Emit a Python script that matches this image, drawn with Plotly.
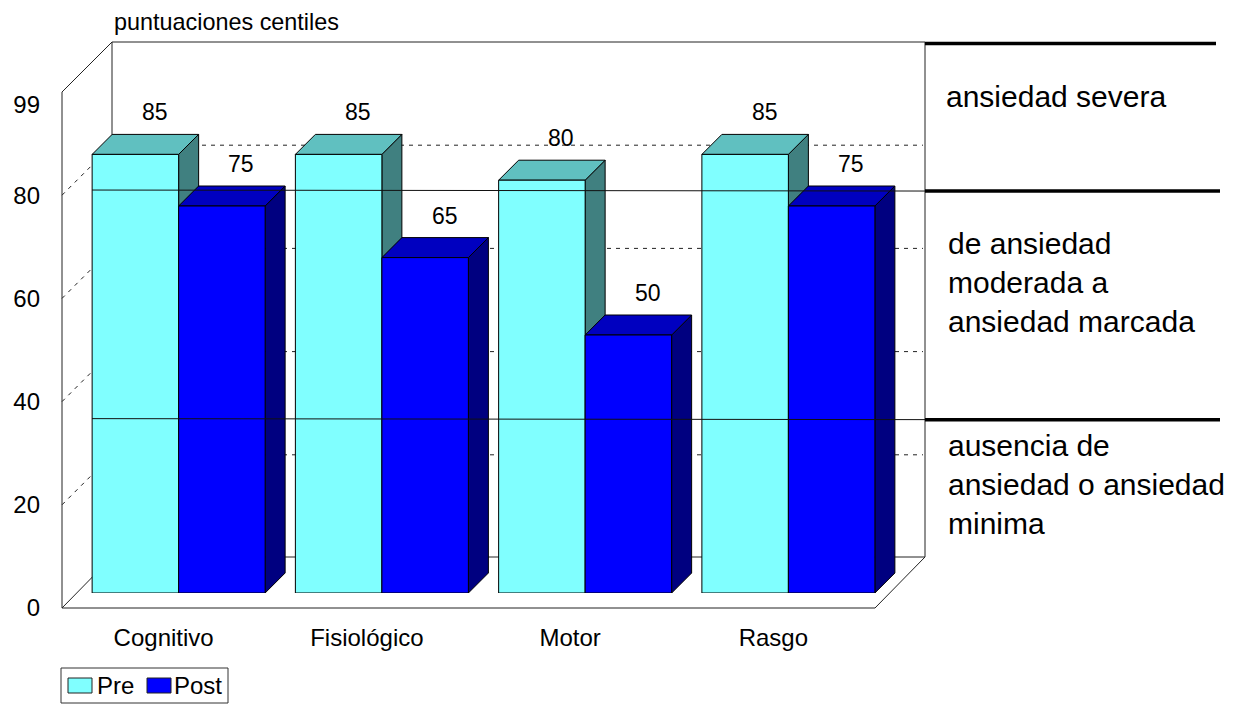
import plotly.graph_objects as go

categories = ["Cognitivo", "Fisiológico", "Motor", "Rasgo"]
pre_values = [85, 85, 80, 85]
post_values = [75, 65, 50, 75]
y_tick_values = [0, 20, 40, 60, 80, 97.5]
y_tick_labels = ["0", "20", "40", "60", "80", "99"]
grid_values = [20, 40, 60, 80]
level_values = [81.0, 36.7]
y_axis_title = "puntuaciones centiles"
series_names = ["Pre", "Post"]
front_colors = ["#80FFFF", "#0000FF"]
zone_lines = [
    ("ansiedad severa", 944, 96),
    ("de ansiedad", 946, 243),
    ("moderada a", 946, 282),
    ("ansiedad marcada", 946, 321),
    ("ausencia de", 946, 445),
    ("ansiedad o ansiedad", 946, 484),
    ("minima", 946, 523),
]

W, H = 1242, 704
FONT = "Liberation Sans"
L, R, T, B = 62, 875, 92, 608     # front plane of the chart frame, px
WALL = 50                         # depth of the frame, px
BAR_SHIFT = 15                    # bar front plane shift, px
BAR_DEPTH = 20                    # bar depth, px
PX_X = (R - L) / 4
PX_Y = (B - T) / 100
BAR_W = 86.5
EXTRA = 60                        # extra primary-axis room so the 3-D faces are not cut

def px(x):
    return x / W

def py(y):
    return 1 - y / H

def vy(v):
    return B - v * PX_Y

LINE = "#222222"
shapes = []

def seg(x0, y0, x1, y1, color=LINE, width=1, dash="solid", layer="below"):
    shapes.append(dict(type="line", xref="paper", yref="paper", x0=px(x0), y0=py(y0),
                       x1=px(x1), y1=py(y1), layer=layer,
                       line=dict(color=color, width=width, dash=dash)))

# frame
seg(L, T, L, B)
seg(L, B, R, B)
seg(L, T, L + WALL, T - WALL)
seg(L, B, L + WALL, B - WALL - 1)
seg(R, B, R + WALL, B - WALL - 1)
seg(L + WALL, T - WALL, L + WALL, B - WALL - 1)
seg(L + WALL, T - WALL, R + WALL, T - WALL)
seg(L + WALL, B - WALL - 1, R + WALL, B - WALL - 1)
seg(R + WALL, T - WALL, R + WALL, B - WALL - 1)
# grid
for g in grid_values:
    seg(L, vy(g), L + WALL, vy(g) - WALL, dash="4px,5px")
    seg(L + WALL, vy(g) - WALL, R + WALL - 2, vy(g) - WALL, dash="4px,5px")
# level lines
for v in level_values:
    seg(L + 30, vy(v), R + WALL, vy(v) + 1, color="#111111", layer="above")
    seg(R + WALL, vy(v) + 1, 1220, vy(v) + 1, color="#000000", width=3.5, layer="above")
seg(R + WALL, T - WALL + 1.5, 1216, T - WALL + 1.5, color="#000000", width=3.5, layer="above")

# legend box and swatches
LEG_T, LEG_B = 668, 703
shapes.append(dict(type="rect", xref="paper", yref="paper", x0=px(61), x1=px(228),
                   y0=py(LEG_B), y1=py(LEG_T), layer="below",
                   line=dict(color="#333333", width=1), fillcolor="#FFFFFF"))
for sx, col in zip((68, 147), front_colors):
    shapes.append(dict(type="rect", xref="paper", yref="paper", x0=px(sx), x1=px(sx + 24),
                       y0=py(693), y1=py(678), layer="below",
                       line=dict(color="#222222", width=1), fillcolor=col))

# helpers in data units of the primary axes
SX = BAR_SHIFT / PX_X
SY = BAR_SHIFT / PX_Y
DX = BAR_DEPTH / PX_X
DY = BAR_DEPTH / PX_Y
BW = BAR_W / PX_X

fig = go.Figure()

def faces(idx, vals, left_offset, top_color, side_color):
    for i, v in enumerate(vals):
        x0 = idx[i] + SX + left_offset
        x1 = x0 + BW
        y1 = v + SY
        y0 = SY
        fig.add_trace(go.Scatter(
            x=[x1, x1 + DX, x1 + DX, x1, x1], y=[y0, y0 + DY, y1 + DY, y1, y0],
            mode="lines", fill="toself", fillcolor=side_color,
            line=dict(color="#000000", width=1), showlegend=False,
            hoverinfo="skip", cliponaxis=False))
        fig.add_trace(go.Scatter(
            x=[x0, x0 + DX, x1 + DX, x1, x0], y=[y1, y1 + DY, y1 + DY, y1, y1],
            mode="lines", fill="toself", fillcolor=top_color,
            line=dict(color="#000000", width=1), showlegend=False,
            hoverinfo="skip", cliponaxis=False))

idx = list(range(len(categories)))
faces(idx, pre_values, -BW, "#60C0C0", "#408080")
faces(idx, post_values, 0, "#0000C0", "#000080")

fig.add_trace(go.Bar(name=series_names[0], x=idx, y=pre_values, width=BW, offset=-BW,
                     marker=dict(color=front_colors[0], line=dict(color="#000000", width=1)),
                     xaxis="x2", yaxis="y2", hoverinfo="x+y", showlegend=False))
fig.add_trace(go.Bar(name=series_names[1], x=idx, y=post_values, width=BW, offset=0,
                     marker=dict(color=front_colors[1], line=dict(color="#000000", width=1)),
                     xaxis="x2", yaxis="y2", hoverinfo="x+y", showlegend=False))

annotations = []
for vals, off in ((pre_values, -BW / 2), (post_values, BW / 2)):
    for i, v in enumerate(vals):
        annotations.append(dict(x=i + off, y=v, xref="x2", yref="y2", text=str(v),
                                showarrow=False, xshift=19.5, yshift=42, xanchor="center",
                                yanchor="middle", font=dict(family=FONT, size=23, color="#000000")))
for text, x, y in zone_lines:
    annotations.append(dict(x=px(x), y=py(y), xref="paper", yref="paper", text=text,
                            showarrow=False, xanchor="left", yanchor="middle",
                            font=dict(family=FONT, size=30, color="#000000")))
annotations.append(dict(x=px(112), y=py(22), xref="paper", yref="paper", text=y_axis_title,
                        showarrow=False, xanchor="left", yanchor="middle",
                        font=dict(family=FONT, size=23.4, color="#000000")))
for name, x in zip(series_names, (95, 172)):
    annotations.append(dict(x=px(x), y=py(685), xref="paper", yref="paper", text=name,
                            showarrow=False, xanchor="left", yanchor="middle",
                            font=dict(family=FONT, size=24, color="#000000")))

tick_font = dict(family=FONT, size=24, color="#000000")
fig.update_layout(
    width=W, height=H, margin=dict(l=0, r=0, t=0, b=0, pad=0),
    paper_bgcolor="#FFFFFF", plot_bgcolor="rgba(0,0,0,0)", barmode="overlay",
    shapes=shapes, annotations=annotations, showlegend=False,
    font=dict(family=FONT, color="#000000"),
    xaxis=dict(domain=[px(L), px(R + EXTRA)], range=[-0.5, 3.5 + EXTRA / PX_X], tickmode="array",
               tickvals=idx, ticktext=categories, showgrid=False, zeroline=False, showline=False,
               ticks="", tickfont=tick_font, ticklabelstandoff=13, automargin=False),
    yaxis=dict(domain=[py(B), py(T)], range=[0, 100], tickmode="array",
               tickvals=y_tick_values, ticktext=y_tick_labels, showgrid=False, zeroline=False,
               showline=False, ticks="", tickfont=tick_font, ticklabelstandoff=21,
               automargin=False),
    xaxis2=dict(domain=[px(L + BAR_SHIFT), px(R + BAR_SHIFT)], range=[-0.5, 3.5], visible=False,
                anchor="y2"),
    yaxis2=dict(domain=[py(B - BAR_SHIFT), py(T - BAR_SHIFT)], range=[0, 100], visible=False,
                anchor="x2"),
)

fig.write_html("out.html", config=dict(displayModeBar=False),
               post_script="document.body.style.margin='0';")
